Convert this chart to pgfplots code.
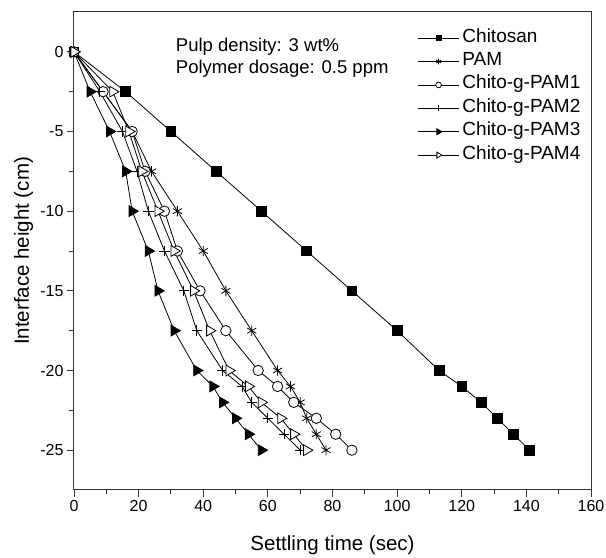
\documentclass[border=0pt]{standalone}
\usepackage{pgfplots}
\pgfplotsset{compat=1.18}
\usepackage{fontspec}
\setmainfont{Liberation Sans}
\begin{document}
\begin{tikzpicture}
\begin{axis}[
  scale only axis,
  width=517pt, height=478pt,
  xmin=0, xmax=160, ymin=-27.5, ymax=2.5,
  xtick={0,20,...,160}, ytick={-25,-20,...,0},
  minor x tick num=1, minor y tick num=1,
  tick align=outside,
  xtick pos=bottom, ytick pos=left,
  major tick length=7pt, minor tick length=4.5pt,
  axis line style={line width=1pt, black!80},
  every tick/.style={line width=0.9pt, black!80},
  font=\fontsize{18.5}{22}\selectfont,
  tick label style={font=\fontsize{16}{19}\selectfont},
  /pgf/number format/assume math mode=true,
  xlabel={Settling time (sec)},
  ylabel={Interface height (cm)},
  x label style={font=\fontsize{20.5}{24}\selectfont, at={(axis description cs:0.5,0)}, anchor=base, yshift=-61pt},
  y label style={font=\fontsize{20.5}{24}\selectfont, at={([xshift=-45pt]axis description cs:0,0.5)}, anchor=base},
  every axis plot/.append style={line width=0.8pt, black},
  legend cell align=left,
  legend style={draw=none, fill=none, at={(axis cs:106.3,1.375)}, anchor=north west,
    inner sep=0pt, row sep=7.4pt, column sep=3pt,
    font=\fontsize{19}{22}\selectfont,
    nodes={text height=12pt, text depth=4pt, inner sep=0pt}},
  legend image code/.code={\draw[mark repeat=2,mark phase=2,#1,/tikz/every mark/.append style={scale=0.55}] plot coordinates {(0pt,0pt)(20.5pt,0pt)(41pt,0pt)};},
]
\coordinate (sw) at (rel axis cs:0,0);
\coordinate (ne) at (rel axis cs:1,1);
\addplot[mark=square*, mark size=4.8pt, mark options={fill=black}] coordinates {
(0,0)(16,-2.5)(30,-5)(44,-7.5)(58,-10)(72,-12.5)(86,-15)(100,-17.5)(113,-20)(120,-21)(126,-22)(131,-23)(136,-24)(141,-25)};
\addlegendentry{Chitosan}
\addplot[mark=asterisk, mark size=5.2pt] coordinates {
(0,0)(9,-2.5)(18,-5)(24,-7.5)(32,-10)(40,-12.5)(47,-15)(55,-17.5)(63,-20)(67,-21)(70,-22)(72,-23)(75,-24)(78,-25)};
\addlegendentry{PAM}
\addplot[mark=*, mark size=5.2pt, mark options={fill=white}] coordinates {
(0,0)(9,-2.5)(18,-5)(22,-7.5)(28,-10)(32,-12.5)(39,-15)(47,-17.5)(57,-20)(63,-21)(68,-22)(75,-23)(81,-24)(86,-25)};
\addlegendentry{Chito-g-PAM1}
\addplot[mark=+, mark size=5.2pt] coordinates {
(0,0)(8,-2.5)(15,-5)(19.5,-7.5)(23,-10)(28,-12.5)(34,-15)(38,-17.5)(46,-20)(52,-21)(55,-22)(60,-23)(65,-24)(70,-25)};
\addlegendentry{Chito-g-PAM2}
\addplot[mark=triangle*, mark size=6.2pt, mark options={fill=black, rotate=-90}] coordinates {
(0,0)(5,-2.5)(11,-5)(16,-7.5)(18,-10)(23,-12.5)(26,-15)(31,-17.5)(38,-20)(43,-21)(46,-22)(50,-23)(54,-24)(58,-25)};
\addlegendentry{Chito-g-PAM3}
\addplot[mark=triangle*, mark size=6.2pt, mark options={fill=white, rotate=-90}] coordinates {
(0,0)(12,-2.5)(17,-5)(21,-7.5)(26,-10)(31,-12.5)(37,-15)(42,-17.5)(48,-20)(54,-21)(58,-22)(64,-23)(68,-24)(72,-25)};
\addlegendentry{Chito-g-PAM4}
\node[anchor=base west, inner sep=0pt] at (axis cs:31.5,0) {Pulp density: 3 wt\%};
\node[anchor=base west, inner sep=0pt] at (axis cs:31.5,-1.375) {Polymer dosage: 0.5 ppm};
\end{axis}
\pgfresetboundingbox
\path[use as bounding box] ([xshift=-74pt,yshift=-68pt]sw) rectangle ([xshift=15pt,yshift=12pt]ne);
\end{tikzpicture}
\end{document}
